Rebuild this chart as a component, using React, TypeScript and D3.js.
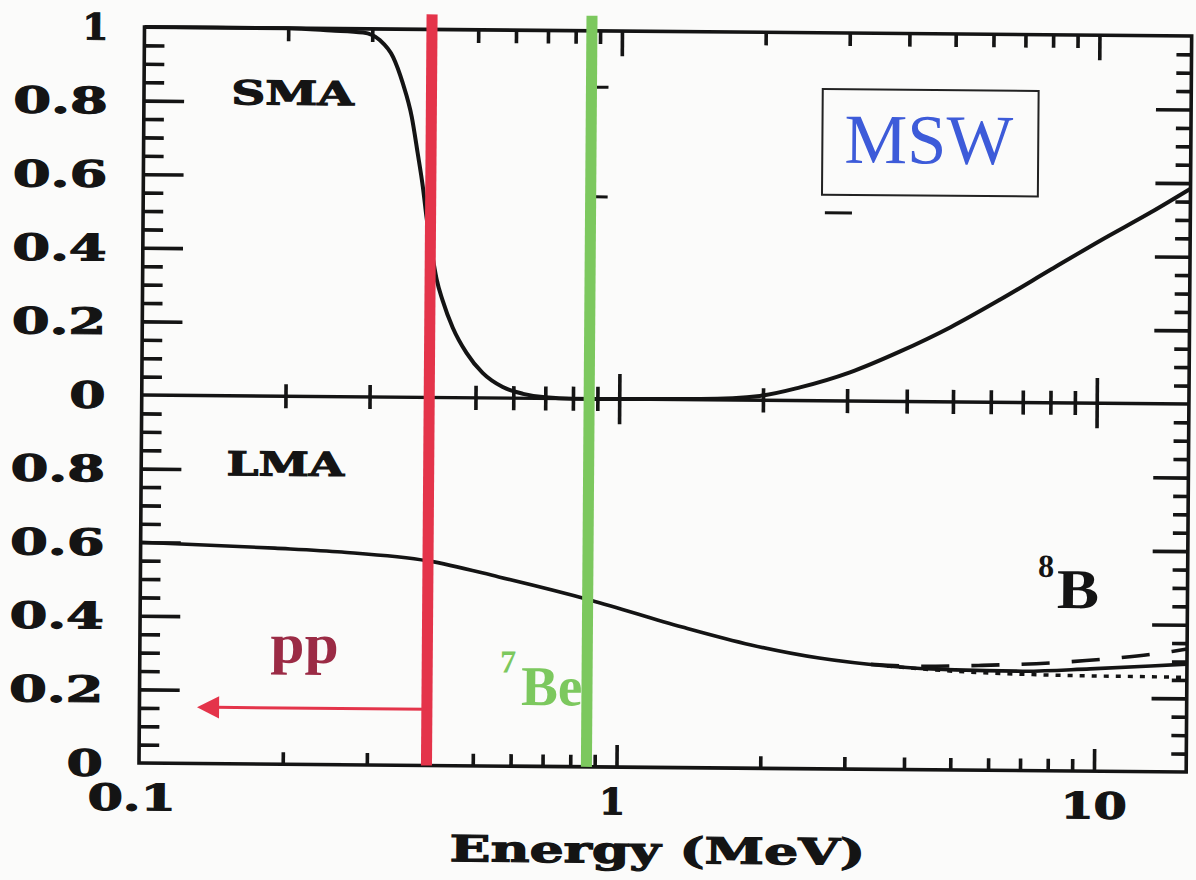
import { useRef, useEffect } from "react";
import * as d3 from "d3";

// ---- data ----
const smaEnergy = [0.1, 0.2, 0.246, 0.287, 0.311, 0.332, 0.348, 0.364, 0.375, 0.385, 0.393, 0.399, 0.406, 0.413, 0.425, 0.447, 0.478, 0.517, 0.57, 0.629, 0.7, 0.8, 1.0, 1.48, 1.97, 2.39, 3.04, 3.87, 4.93, 6.27, 7.98, 10.15, 12.9, 15.6];
const smaProb = [1.0, 1.0, 0.995, 0.99, 0.97, 0.924, 0.854, 0.762, 0.664, 0.572, 0.482, 0.425, 0.37, 0.32, 0.265, 0.19, 0.122, 0.068, 0.03, 0.012, 0.003, 0.0, 0.0, 0.002, 0.012, 0.036, 0.078, 0.136, 0.203, 0.28, 0.362, 0.443, 0.52, 0.585];

const lmaEnergy = [0.1, 0.191, 0.264, 0.4, 0.563, 0.878, 1.366, 1.905, 2.646, 3.675, 5.1, 7.05, 9.78, 13.1, 15.6];
const lmaProb = [0.6, 0.587, 0.578, 0.556, 0.514, 0.453, 0.382, 0.335, 0.301, 0.281, 0.272, 0.27, 0.278, 0.287, 0.293];

const dashedEnergy = [3.4, 4.18, 5.81, 8.05, 11.1, 14.5, 15.6];
const dashedProb = [0.285, 0.281, 0.285, 0.293, 0.308, 0.327, 0.334];

const dottedEnergy = [3.675, 5.1, 6.85, 9.5, 13.1, 15.6];
const dottedProb = [0.281, 0.268, 0.262, 0.259, 0.258, 0.257];

const ppEnergy = 0.4;
const beEnergy = 0.865;
const arrowTipEnergy = 0.132;
const arrowProb = 0.153;

const strayEnergy = 0.912;
const strayProb = [0.847, 0.549];

const xMajor = [1, 10];
const xMinor = [0.2, 0.3, 0.4, 0.5, 0.6, 0.7, 0.8, 0.9, 2, 3, 4, 5, 6, 7, 8, 9];
const xTickVals = [0.1, 1, 10];
const xTickText = ["0.1", "1", "10"];
const yMajor = [0.2, 0.4, 0.6, 0.8];
const yMinor = [0.05, 0.1, 0.15, 0.25, 0.3, 0.35, 0.45, 0.5, 0.55, 0.65, 0.7, 0.75, 0.85, 0.9, 0.95];
const yTickVals = [1, 0.8, 0.6, 0.4, 0.2, 0];
const yTickText = ["1", "0.8", "0.6", "0.4", "0.2", "0"];

export default function App() {
  const ref = useRef<SVGSVGElement>(null);

  useEffect(() => {
    const W = 1196;
    const H = 880;
    const left = 147;
    const right = 1190;
    const top = 30;
    const mid = 396;
    const bottom = 762;
    const ink = "#141414";
    const labelFont = "'DejaVu Serif', serif";
    const timesFont = "'Liberation Serif', 'Times New Roman', serif";

    const svg = d3.select(ref.current);
    svg.selectAll("*").remove();

    svg.append("rect").attr("width", W).attr("height", H).attr("fill", "#fbfbfa");

    // scanned page is slightly skewed
    const g = svg.append("g").attr("transform", "matrix(1.004,0.0086,-0.0075,1.0055,-2.87,-4.44)");

    // ---- Scales ----
    const x = d3.scaleLog().domain([0.1, 15.6]).range([left, right]);
    const yTop = d3.scaleLinear().domain([0, 1]).range([mid, top]);
    const yBot = d3.scaleLinear().domain([0, 1]).range([bottom, mid]);

    // ---- Curves ----
    const curve = (es: number[], ps: number[], y: any) =>
      d3
        .line<number>()
        .x((d, i) => x(es[i]))
        .y((d) => y(d))
        .curve(d3.curveMonotoneX)(ps);

    g.append("path").attr("d", curve(smaEnergy, smaProb, yTop)).attr("fill", "none").attr("stroke", ink).attr("stroke-width", 4);
    g.append("path").attr("d", curve(lmaEnergy, lmaProb, yBot)).attr("fill", "none").attr("stroke", ink).attr("stroke-width", 3.6);
    g.append("path")
      .attr("d", curve(dashedEnergy, dashedProb, yBot))
      .attr("fill", "none")
      .attr("stroke", ink)
      .attr("stroke-width", 3.6)
      .attr("stroke-dasharray", "28,22");
    g.append("path")
      .attr("d", curve(dottedEnergy, dottedProb, yBot))
      .attr("fill", "none")
      .attr("stroke", ink)
      .attr("stroke-width", 3.4)
      .attr("stroke-dasharray", "5,7");

    // ---- Frame ----
    g.append("rect")
      .attr("x", left)
      .attr("y", top)
      .attr("width", right - left)
      .attr("height", bottom - top)
      .attr("fill", "none")
      .attr("stroke", ink)
      .attr("stroke-width", 3.6);
    g.append("line").attr("x1", left).attr("x2", right).attr("y1", mid).attr("y2", mid).attr("stroke", ink).attr("stroke-width", 3.4);

    // ---- Ticks ----
    const ticks = (axis: any, tx: number, ty: number) => {
      g.append("g")
        .attr("transform", `translate(${tx},${ty})`)
        .call(axis.tickFormat(() => ""))
        .call((s: any) => s.select(".domain").remove())
        .call((s: any) => s.selectAll("line").attr("stroke", ink).attr("stroke-width", 3.6));
    };

    ticks(d3.axisBottom(x).tickValues(xMinor).tickSize(13), 0, top);
    ticks(d3.axisBottom(x).tickValues(xMajor).tickSize(25), 0, top);
    ticks(d3.axisBottom(x).tickValues(xMinor).tickSize(12), 0, mid);
    ticks(d3.axisTop(x).tickValues(xMinor).tickSize(12), 0, mid);
    ticks(d3.axisBottom(x).tickValues(xMajor).tickSize(25), 0, mid);
    ticks(d3.axisTop(x).tickValues(xMajor).tickSize(25), 0, mid);
    ticks(d3.axisTop(x).tickValues(xMinor).tickSize(12), 0, bottom);
    ticks(d3.axisTop(x).tickValues(xMajor).tickSize(22), 0, bottom);

    [yTop, yBot].forEach((y) => {
      ticks(d3.axisRight(y).tickValues(yMinor).tickSize(20), left, 0);
      ticks(d3.axisRight(y).tickValues(yMajor).tickSize(40), left, 0);
      ticks(d3.axisLeft(y).tickValues(yMinor).tickSize(15), right, 0);
      ticks(d3.axisLeft(y).tickValues(yMajor).tickSize(35), right, 0);
    });

    // ---- Tick labels ----
    const widthOf = (s: string) => (s === "1" ? 26 : s === "0" ? 36 : s === "10" ? 66 : s === "0.1" ? 88 : 94);

    const boldText = (sel: any) =>
      sel
        .attr("font-family", labelFont)
        .attr("font-weight", "bold")
        .attr("fill", ink)
        .attr("stroke", ink)
        .attr("stroke-width", 1.1)
        .attr("lengthAdjust", "spacingAndGlyphs");

    const yLabel = (y: any, vals: number[], texts: string[]) =>
      g
        .append("g")
        .selectAll("text")
        .data(vals)
        .enter()
        .append("text")
        .attr("x", left - 36)
        .attr("y", (d) => y(d) + 13)
        .attr("text-anchor", "end")
        .attr("font-size", 36)
        .attr("textLength", (d, i) => widthOf(texts[i]))
        .call(boldText)
        .text((d, i) => texts[i]);

    yLabel(yTop, yTickVals, yTickText);
    yLabel(yBot, yTickVals.slice(1), yTickText.slice(1));

    g.append("g")
      .selectAll("text")
      .data(xTickVals)
      .enter()
      .append("text")
      .attr("x", (d) => x(d) - (d < 1 ? 7 : d === 1 ? 4 : 0))
      .attr("y", bottom + 47)
      .attr("text-anchor", "middle")
      .attr("font-size", 36)
      .attr("textLength", (d, i) => widthOf(xTickText[i]))
      .call(boldText)
      .text((d, i) => xTickText[i]);

    g.append("text")
      .attr("x", 664)
      .attr("y", 857)
      .attr("text-anchor", "middle")
      .attr("font-size", 36)
      .attr("textLength", 414)
      .call(boldText)
      .text("Energy (MeV)");

    // ---- Panel names ----
    [
      { t: "SMA", x: 234, y: 106, w: 122 },
      { t: "LMA", x: 232, y: 475, w: 117 },
    ].forEach((p) =>
      g
        .append("text")
        .attr("x", p.x)
        .attr("y", p.y)
        .attr("font-size", 33)
        .attr("textLength", p.w)
        .call(boldText)
        .text(p.t)
    );

    // ---- MSW box ----
    g.append("rect").attr("x", 823).attr("y", 86).attr("width", 215).attr("height", 105).attr("fill", "none").attr("stroke", "#222").attr("stroke-width", 2);
    g.append("text")
      .attr("x", 845)
      .attr("y", 159)
      .attr("font-family", timesFont)
      .attr("font-size", 70)
      .attr("fill", "#3d5bd9")
      .attr("textLength", 168)
      .attr("lengthAdjust", "spacingAndGlyphs")
      .text("MSW");
    g.append("line").attr("x1", 826).attr("x2", 853).attr("y1", 209).attr("y2", 209).attr("stroke", ink).attr("stroke-width", 3);

    // stray marks beside the 7Be line
    g.append("g")
      .selectAll("line")
      .data(strayProb)
      .enter()
      .append("line")
      .attr("x1", x(strayEnergy) - 6)
      .attr("x2", x(strayEnergy) + 6)
      .attr("y1", (d) => yTop(d))
      .attr("y2", (d) => yTop(d))
      .attr("stroke", ink)
      .attr("stroke-width", 3);

    // ---- Source lines ----
    const red = "#e4344a";
    const green = "#7cc85e";
    g.append("line").attr("x1", x(ppEnergy)).attr("x2", x(ppEnergy)).attr("y1", top - 15).attr("y2", bottom).attr("stroke", red).attr("stroke-width", 11);
    g.append("line").attr("x1", x(beEnergy)).attr("x2", x(beEnergy)).attr("y1", top - 15).attr("y2", bottom).attr("stroke", green).attr("stroke-width", 11);

    // pp arrow
    const tipX = x(arrowTipEnergy);
    const arrowY = yBot(arrowProb);
    g.append("line")
      .attr("x1", x(ppEnergy))
      .attr("x2", tipX + 18)
      .attr("y1", arrowY)
      .attr("y2", arrowY)
      .attr("stroke", red)
      .attr("stroke-width", 3);
    g.append("path")
      .attr("d", `M${tipX},${arrowY}L${tipX + 22},${arrowY - 11}L${tipX + 22},${arrowY + 11}Z`)
      .attr("fill", red);

    // ---- Source labels ----
    g.append("text")
      .attr("x", 277)
      .attr("y", 661)
      .attr("font-family", timesFont)
      .attr("font-weight", "bold")
      .attr("font-size", 56)
      .attr("fill", "#9b2b45")
      .attr("textLength", 68)
      .attr("lengthAdjust", "spacingAndGlyphs")
      .text("pp");

    g.append("text").attr("x", 506).attr("y", 669).attr("font-family", timesFont).attr("font-weight", "bold").attr("font-size", 32).attr("fill", green).text("7");
    g.append("text")
      .attr("x", 527)
      .attr("y", 701)
      .attr("font-family", timesFont)
      .attr("font-weight", "bold")
      .attr("font-size", 56)
      .attr("fill", green)
      .attr("textLength", 61)
      .attr("lengthAdjust", "spacingAndGlyphs")
      .text("Be");

    g.append("text").attr("x", 1041).attr("y", 569).attr("font-family", timesFont).attr("font-weight", "bold").attr("font-size", 32).attr("fill", ink).text("8");
    g.append("text")
      .attr("x", 1060)
      .attr("y", 600)
      .attr("font-family", timesFont)
      .attr("font-weight", "bold")
      .attr("font-size", 56)
      .attr("fill", ink)
      .attr("textLength", 42)
      .attr("lengthAdjust", "spacingAndGlyphs")
      .text("B");
  }, []);

  return <svg ref={ref} width={1196} height={880} style={{ position: "absolute", left: 0, top: 0 }} />;
}
